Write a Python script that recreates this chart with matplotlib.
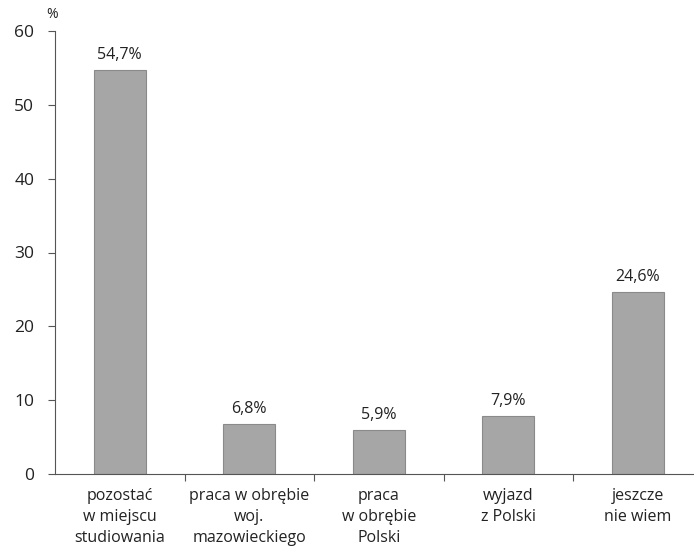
import matplotlib
matplotlib.use("Agg")
import matplotlib.pyplot as plt
import numpy as np

categories = [
    "pozostać\nw miejscu\nstudiowania",
    "praca w obrębie\nwoj.\nmazowieckiego",
    "praca\nw obrębie\nPolski",
    "wyjazd\nz Polski",
    "jeszcze\nnie wiem",
]
values = [54.7, 6.8, 5.9, 7.9, 24.6]
labels = ["54,7%", "6,8%", "5,9%", "7,9%", "24,6%"]

plt.rcParams["font.family"] = ["Open Sans", "DejaVu Sans"]

W, H = 694, 554
fig = plt.figure(figsize=(W / 100, H / 100), dpi=100)
left, right, bottom, top = 55, 694, 474, 31
ax = fig.add_axes([left / W, (H - bottom) / H, (right - left) / W, (bottom - top) / H])

x = np.arange(len(values))
ax.bar(x, values, width=0.4, color="#a6a6a6", edgecolor="#8a8a8a", linewidth=0.8, zorder=2)

for xi, v, lab in zip(x, values, labels):
    ax.annotate(lab, (xi, v), xytext=(0, 5), textcoords="offset points",
                ha="center", va="bottom", fontsize=11.5, color="#222222")

cat_px = 129.5
ax.set_xlim(-0.5, -0.5 + (right - left) / cat_px)
ax.set_ylim(0, 60)
ax.set_yticks(range(0, 61, 10))
ax.tick_params(axis="y", labelsize=12.5, length=5, width=0.8, color="#555555", pad=10, labelcolor="#222222")

# category boundaries carry the ticks, labels sit at centres
ax.set_xticks(np.arange(0.5, 4.0, 1.0))
ax.set_xticklabels([])
ax.tick_params(axis="x", length=5, width=0.8, color="#555555")
for xi, cat in zip(x, categories):
    ax.text(xi, -1.9, cat, ha="center", va="top", fontsize=11.5,
            color="#222222", linespacing=1.42)

for s in ["top", "right"]:
    ax.spines[s].set_visible(False)
ax.spines["left"].set_color("#555555")
ax.spines["bottom"].set_color("#555555")

fig.text(52 / W, 1 - 14 / H, "%", ha="center", va="center", fontsize=10, color="#222222")

fig.savefig("out.png", dpi=100, facecolor="white")
